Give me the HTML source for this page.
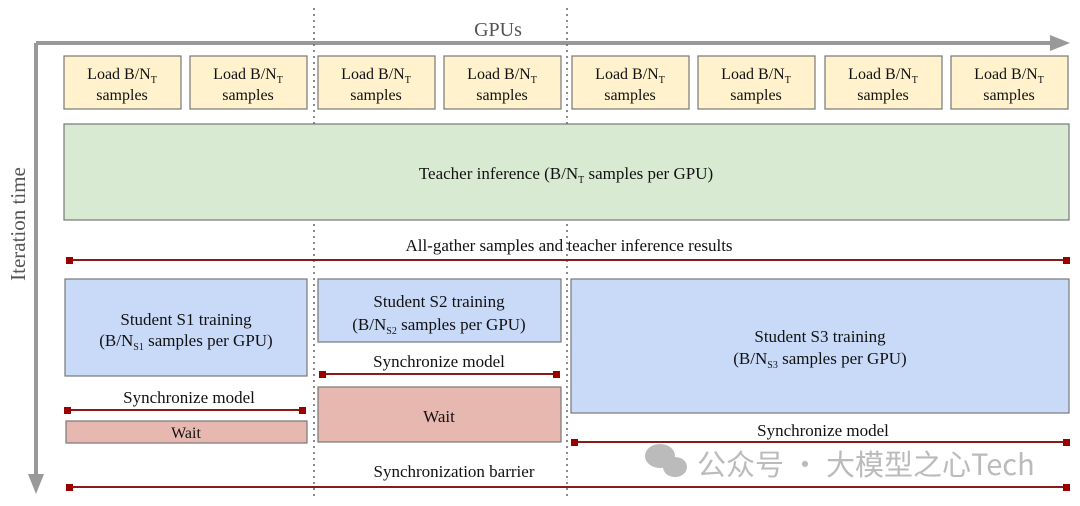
<!DOCTYPE html>
<html><head><meta charset="utf-8"><style>
body{margin:0;background:#fff}
svg{display:block;font-family:"Liberation Serif",serif}
</style></head><body>
<svg width="1080" height="506" viewBox="0 0 1080 506">
<g stroke="#999" stroke-width="4" fill="none">
<line x1="36" y1="43" x2="1056" y2="43"/>
<line x1="36" y1="43" x2="36" y2="480"/>
</g>
<polygon points="1050,35 1070,43 1050,51" fill="#999"/>
<polygon points="28,474 36,494 44,474" fill="#999"/>
<text x="498" y="36" font-size="20" fill="#555" text-anchor="middle">GPUs</text>
<text transform="translate(25,224) rotate(-90)" font-size="21" fill="#555" text-anchor="middle">Iteration time</text>
<g stroke="#666" stroke-width="1.5" stroke-dasharray="2,4">
<line x1="314" y1="8" x2="314" y2="500"/>
<line x1="567" y1="8" x2="567" y2="500"/>
</g>
<g stroke="#777" stroke-width="1.2">
<g fill="#fff2cc">
<rect x="64" y="56" width="117" height="53"/><rect x="190" y="56" width="117" height="53"/>
<rect x="318" y="56" width="117" height="53"/><rect x="444" y="56" width="117" height="53"/>
<rect x="572" y="56" width="117" height="53"/><rect x="698" y="56" width="117" height="53"/>
<rect x="825" y="56" width="117" height="53"/><rect x="951" y="56" width="117" height="53"/>
</g>
<rect x="64" y="124" width="1005" height="96" fill="#d9ead3"/>
<rect x="65" y="279" width="242" height="97" fill="#c9daf8"/>
<rect x="318" y="279" width="243" height="63" fill="#c9daf8"/>
<rect x="571" y="279" width="498" height="134" fill="#c9daf8"/>
<rect x="66" y="421" width="241" height="22" fill="#e6b8af"/>
<rect x="318" y="387" width="243" height="55" fill="#e6b8af"/>
</g>
<g font-size="16" text-anchor="middle" fill="#111">
<text x="122" y="79">Load B/N<tspan font-size="10" dy="4">T</tspan></text><text x="122" y="100">samples</text>
<text x="248" y="79">Load B/N<tspan font-size="10" dy="4">T</tspan></text><text x="248" y="100">samples</text>
<text x="376" y="79">Load B/N<tspan font-size="10" dy="4">T</tspan></text><text x="376" y="100">samples</text>
<text x="502" y="79">Load B/N<tspan font-size="10" dy="4">T</tspan></text><text x="502" y="100">samples</text>
<text x="630" y="79">Load B/N<tspan font-size="10" dy="4">T</tspan></text><text x="630" y="100">samples</text>
<text x="756" y="79">Load B/N<tspan font-size="10" dy="4">T</tspan></text><text x="756" y="100">samples</text>
<text x="883" y="79">Load B/N<tspan font-size="10" dy="4">T</tspan></text><text x="883" y="100">samples</text>
<text x="1009" y="79">Load B/N<tspan font-size="10" dy="4">T</tspan></text><text x="1009" y="100">samples</text>
<text x="566" y="179" font-size="17">Teacher inference (B/N<tspan font-size="10" dy="4">T</tspan><tspan dy="-4"> samples per GPU)</tspan></text>
<text x="569" y="251" font-size="17">All-gather samples and teacher inference results</text>
<text x="186" y="325" font-size="17">Student S1 training</text>
<text x="186" y="346" font-size="17">(B/N<tspan font-size="10" dy="4">S1</tspan><tspan dy="-4"> samples per GPU)</tspan></text>
<text x="439" y="307" font-size="17">Student S2 training</text>
<text x="439" y="330" font-size="17">(B/N<tspan font-size="10" dy="4">S2</tspan><tspan dy="-4"> samples per GPU)</tspan></text>
<text x="820" y="342" font-size="17">Student S3 training</text>
<text x="820" y="364" font-size="17">(B/N<tspan font-size="10" dy="4">S3</tspan><tspan dy="-4"> samples per GPU)</tspan></text>
<text x="439" y="367" font-size="17">Synchronize model</text>
<text x="189" y="403" font-size="17">Synchronize model</text>
<text x="186" y="438">Wait</text>
<text x="439" y="422" font-size="17">Wait</text>
<text x="823" y="436" font-size="17">Synchronize model</text>
<text x="454" y="477" font-size="17">Synchronization barrier</text>
</g>
<g stroke="#8b1a1a" stroke-width="2">
<line x1="69" y1="260" x2="1066" y2="260"/>
<line x1="322" y1="374" x2="556" y2="374"/>
<line x1="67" y1="410" x2="302" y2="410"/>
<line x1="574" y1="442" x2="1066" y2="442"/>
<line x1="69" y1="487" x2="1066" y2="487"/>
</g>
<g fill="#9b0000">
<rect x="66" y="257" width="7" height="7"/><rect x="1063" y="257" width="7" height="7"/>
<rect x="319" y="371" width="7" height="7"/><rect x="553" y="371" width="7" height="7"/>
<rect x="64" y="407" width="7" height="7"/><rect x="299" y="407" width="7" height="7"/>
<rect x="571" y="439" width="7" height="7"/><rect x="1063" y="439" width="7" height="7"/>
<rect x="66" y="484" width="7" height="7"/><rect x="1063" y="484" width="7" height="7"/>
</g>
<g fill="#bbb">
<ellipse cx="660" cy="456" rx="15" ry="12"/><ellipse cx="675" cy="467" rx="12" ry="10"/>
</g>
<text x="697" y="475" font-size="29" fill="#bbb" font-family="'Noto Sans CJK SC',sans-serif">公众号 · 大模型之心Tech</text>
</svg>
</body></html>
